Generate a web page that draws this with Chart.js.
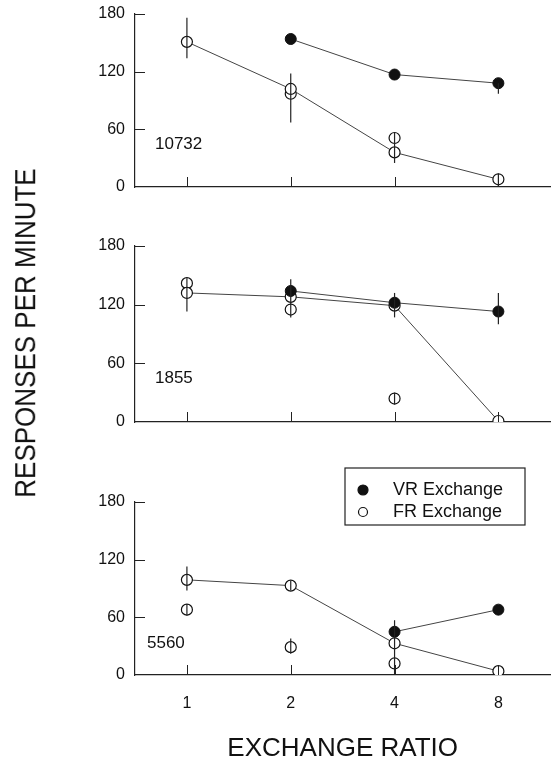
<!DOCTYPE html>
<html>
<head>
  <script src="https://cdn.jsdelivr.net/npm/chart.js"></script>
  <style>
    body { margin: 0; background: #fff; overflow: hidden; }
    #wrap { position: relative; width: 552px; height: 764px; overflow: hidden; }
    canvas { position: absolute; left: 0; }
    #ytitle {
      position: absolute; left: -175px; top: 318px; width: 400px; height: 30px;
      line-height: 30px; text-align: center; color: #111;
      font: 26px "Liberation Sans", Arial, sans-serif;
      transform: rotate(-90deg) scaleY(1.12);
    }
  </style>
</head>
<body>
<div id="wrap">
  <canvas id="panel1" width="557" height="237" style="top:-20px"></canvas>
  <canvas id="panel2" width="557" height="252" style="top:200px"></canvas>
  <canvas id="panel3" width="557" height="329" style="top:435px"></canvas>
  <div id="ytitle">RESPONSES PER MINUTE</div>
</div>
<script>
  const ratios = ["1", "2", "4", "8"];
  const yMax = 180;
  const yStep = 60;

  // subject 10732
  const p1Vr = [null, 154, 117, 108];
  const p1Fr = [151, 102, 36, 8];
  const p1FrExtra = [null, 97, 51, null];
  const p1Err = [["1", 134, 176], ["2", 67, 118], ["4", 25, 57], ["8", 0, 14], ["8", 97, 108]];

  // subject 1855
  const p2Vr = [null, 134, 122, 113];
  const p2Fr = [132, 128, 119, 1];
  const p2FrExtra = [142, 115, 24, null];
  const p2Err = [["1", 113, 147], ["2", 107, 140], ["2", 128, 146], ["4", 107, 132], ["4", 18, 30], ["8", 100, 132]];

  // subject 5560
  const p3Vr = [null, null, 45, 68];
  const p3Fr = [99, 93, 33, 4];
  const p3FrExtra = [68, 29, 12, null];
  const p3Err = [["1", 88, 113], ["1", 62, 74], ["2", 88, 98], ["2", 22, 38], ["4", 40, 57], ["4", 0, 45]];

  const FONT = "'Liberation Sans', Arial, sans-serif";

  const decor = {
    id: "decor",
    afterDatasetsDraw(chart, args, opts) {
      const ctx = chart.ctx, x = chart.scales.x, y = chart.scales.y, a = chart.chartArea;
      ctx.save();
      ctx.strokeStyle = "#222";
      ctx.lineWidth = 1.2;
      opts.errors.forEach(e => {
        const px = x.getPixelForValue(ratios.indexOf(e[0]));
        ctx.beginPath();
        ctx.moveTo(px, y.getPixelForValue(e[1]));
        ctx.lineTo(px, y.getPixelForValue(e[2]));
        ctx.stroke();
      });
      // tick marks point inward
      ctx.lineWidth = 1;
      y.ticks.forEach(t => {
        if (t.value === 0) return;
        const py = Math.round(y.getPixelForValue(t.value)) + 0.5;
        ctx.beginPath();
        ctx.moveTo(a.left, py);
        ctx.lineTo(a.left + 10, py);
        ctx.stroke();
      });
      ratios.forEach((r, i) => {
        const px = Math.round(x.getPixelForValue(i)) + 0.5;
        ctx.beginPath();
        ctx.moveTo(px, a.bottom);
        ctx.lineTo(px, a.bottom - 10);
        ctx.stroke();
      });
      ctx.fillStyle = "#111";
      ctx.font = "17px " + FONT;
      ctx.textBaseline = "middle";
      ctx.fillText(opts.subject, opts.subjectAt[0], opts.subjectAt[1]);

      if (opts.legend) {
        const b = opts.legend;
        ctx.strokeStyle = "#222";
        ctx.lineWidth = 1.2;
        ctx.strokeRect(b.left, b.top, b.width, b.height);
        ctx.font = "18px " + FONT;
        chart.data.datasets.slice(0, 2).forEach((ds, i) => {
          const cy = b.top + 22 + i * 22;
          ctx.beginPath();
          ctx.arc(b.left + 18, cy, i === 0 ? 5 : 4.5, 0, Math.PI * 2);
          ctx.fillStyle = ds.pointBackgroundColor;
          ctx.fill();
          ctx.strokeStyle = "#111";
          ctx.stroke();
          ctx.fillStyle = "#111";
          ctx.fillText(ds.label, b.left + 48, cy);
        });
      }
      ctx.restore();
    }
  };

  function makePanel(id, vr, fr, frExtra, errors, subject, subjectAt, layout) {
    const datasets = [
      {
        label: "VR Exchange", data: vr, borderColor: "#444", borderWidth: 1,
        pointRadius: 5.5, pointBackgroundColor: "#111", pointBorderColor: "#111", pointBorderWidth: 1
      },
      {
        label: "FR Exchange", data: fr, borderColor: "#444", borderWidth: 1,
        pointRadius: 5.5, pointBackgroundColor: "#fff", pointBorderColor: "#111", pointBorderWidth: 1.2
      },
      {
        label: "FR Exchange (other)", data: frExtra, showLine: false,
        pointRadius: 5.5, pointBackgroundColor: "#fff", pointBorderColor: "#111", pointBorderWidth: 1.2
      }
    ];

    new Chart(document.getElementById(id), {
      type: "line",
      data: { labels: ratios, datasets: datasets },
      plugins: [decor],
      options: {
        responsive: false,
        animation: false,
        layout: { padding: { top: layout.top, right: 2, left: 0, bottom: 0 } },
        scales: {
          x: {
            type: "category",
            offset: true,
            grid: { display: false, drawTicks: false },
            border: { display: true, color: "#222", width: 1.2 },
            ticks: { display: layout.showX, padding: 19, color: "#111", font: { family: FONT, size: 16 } },
            title: {
              display: layout.showX, text: "EXCHANGE RATIO", color: "#111",
              font: { family: FONT, size: 26, lineHeight: 1 }, padding: { top: 0, bottom: 2 }
            },
            afterFit: s => { s.height = layout.xHeight; }
          },
          y: {
            min: 0, max: yMax,
            grid: { display: false, drawTicks: false },
            border: { display: true, color: "#222", width: 1.2 },
            ticks: { stepSize: yStep, padding: 10, color: "#111", font: { family: FONT, size: 16 } },
            afterFit: s => { s.width = 135; }
          }
        },
        plugins: {
          legend: { display: false },
          tooltip: { enabled: false },
          decor: {
            errors: errors, subject: subject, subjectAt: subjectAt,
            legend: layout.legend || null
          }
        }
      }
    });
  }

  makePanel("panel1", p1Vr, p1Fr, p1FrExtra, p1Err, "10732", [155, 164],
    { top: 34, xHeight: 30, showX: false });
  makePanel("panel2", p2Vr, p2Fr, p2FrExtra, p2Err, "1855", [155, 178],
    { top: 46, xHeight: 30, showX: false });
  makePanel("panel3", p3Vr, p3Fr, p3FrExtra, p3Err, "5560", [147, 208],
    { top: 67, xHeight: 89, showX: true, legend: { left: 345, top: 33, width: 180, height: 57 } });
</script>
</body>
</html>
